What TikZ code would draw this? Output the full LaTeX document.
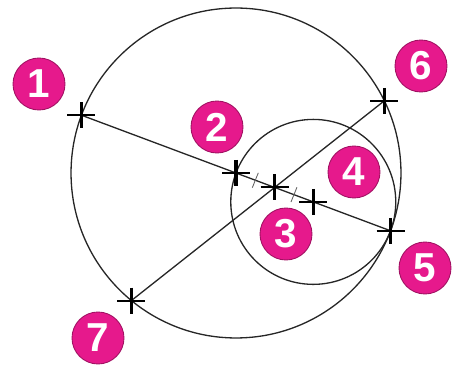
\documentclass[tikz,border=0pt]{standalone}
\usepackage{fontspec}
\setsansfont{Liberation Sans}
\usetikzlibrary{calc}
\definecolor{badgepink}{RGB}{230,25,140}

\begin{document}
\begin{tikzpicture}[
  x=0.02cm, y=-0.02cm,
  every node/.style={font=\sffamily\bfseries\fontsize{23}{23}\selectfont},
  badge/.style={circle, fill=badgepink, draw=badgepink!70!black,
                line width=0.5pt, text=white, minimum size=1.04cm,
                inner sep=0pt},
  circ/.style={draw=black!85, line width=0.75pt},
  seg/.style={draw=black!85, line width=0.75pt},
  hbar/.style={line width=1.2pt},
  vbar/.style={line width=1.8pt},
  tick/.style={draw=gray!80!black, line width=0.5pt},
]
\useasboundingbox (0,0) rectangle (460,367);

% points on the figure
\coordinate (p2) at (236,173);
\coordinate (p5) at ($(p2)+(20.5:165)$);
\coordinate (p1) at ($(p2)+(200.5:165)$);
\coordinate (p4) at ($(p2)!0.5!(p5)$);
\coordinate (p3) at ($(p2)!0.5!(p4)$);
\coordinate (p6) at ($(p3)+(-38.3:139.8)$);
\coordinate (p7) at ($(p3)+(141.7:182.6)$);

% circles
\draw[circ] (p2) circle[radius=3.3cm];
\draw[circ] (p4) circle[radius=1.65cm];

% segments
\draw[seg] (p1) -- (p5);
\draw[seg] (p7) -- (p6);

% equal-length ticks
\coordinate (m23) at ($(p2)!0.5!(p3)$);
\coordinate (m34) at ($(p3)!0.5!(p4)$);
\draw[tick] ($(m23)+(112:8)$) -- ($(m23)+(292:8)$);
\draw[tick] ($(m34)+(112:8)$) -- ($(m34)+(292:8)$);

% crosses
\foreach \p in {p1,p2,p3,p4,p5,p6,p7}{
  \draw[hbar] ($(\p)+(-14,0)$) -- ($(\p)+(14,0)$);
  \draw[vbar] ($(\p)+(0,-13)$) -- ($(\p)+(0,13)$);
}

% numbered badges
\node[badge] (b1) at (39,84)   {1};
\node[badge] (b2) at (217,127) {2};
\node[badge] (b3) at (286,234) {3};
\node[badge] (b4) at (354,172) {4};
\node[badge] (b5) at (425,268) {5};
\node[badge] (b6) at (421,66)  {6};
\node[badge] (b7) at (98,338)  {7};
\end{tikzpicture}
\end{document}
